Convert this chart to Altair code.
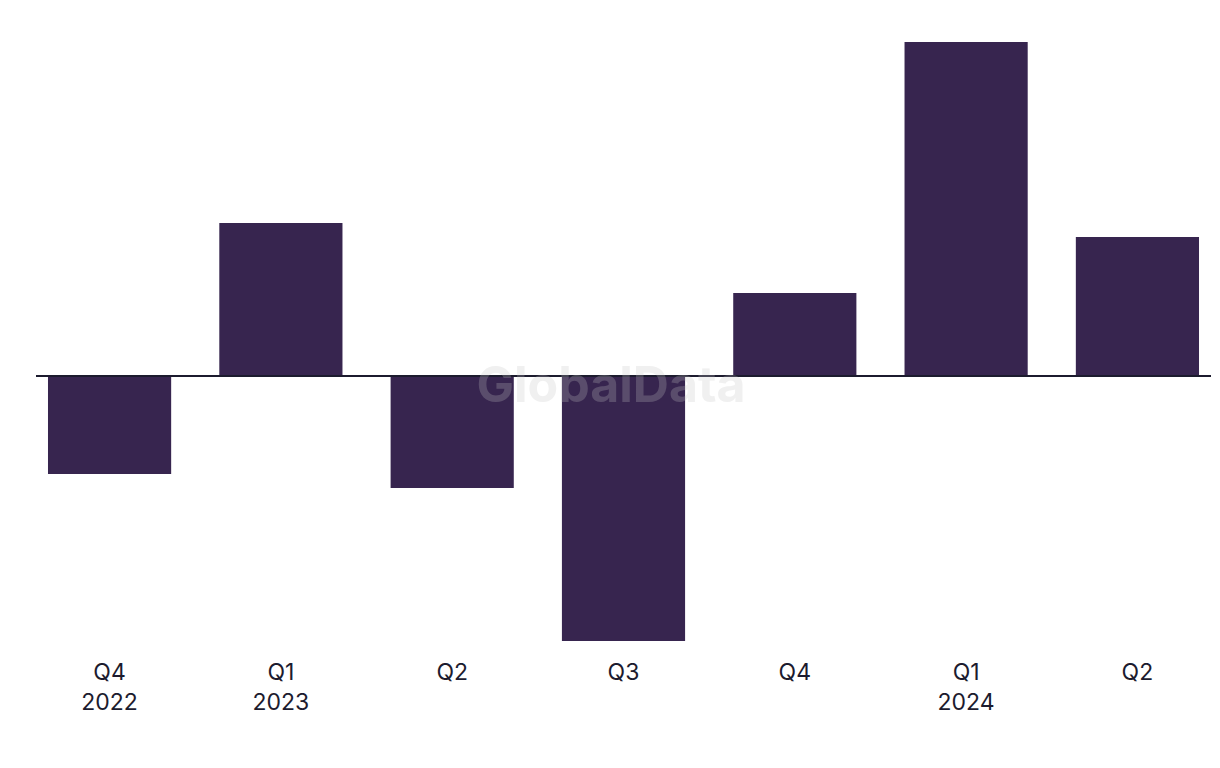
import altair as alt
import pandas as pd

keys = ["2022Q4", "2023Q1", "2023Q2", "2023Q3", "2023Q4", "2024Q1", "2024Q2"]
quarters = ["Q4", "Q1", "Q2", "Q3", "Q4", "Q1", "Q2"]
years = ["2022", "2023", "", "", "", "2024", ""]
values = [-9.8, 15.3, -11.2, -26.5, 8.3, 33.4, 13.9]

df = pd.DataFrame({"key": keys, "value": values})

# build multi-line label expression
expr = "''"
for k, q, y in reversed(list(zip(keys, quarters, years))):
    lab = f"['{q}', '{y}']" if y else f"'{q}'"
    expr = f"datum.value == '{k}' ? {lab} : ({expr})"

FONT = "Inter"
BAR = "#37254f"
INK = "#1c1b2e"

x = alt.X("key:N", sort=keys, title=None,
          scale=alt.Scale(paddingInner=0.281, paddingOuter=0.07),
          axis=alt.Axis(orient="bottom", domain=False, ticks=False, tickSize=0,
                        labelAngle=0, labelPadding=20, labelFont=FONT,
                        labelFontSize=23, labelColor=INK, labelLineHeight=30,
                        labelExpr=expr, grid=False))
y = alt.Y("value:Q", title=None,
          scale=alt.Scale(domain=[-26.5, 33.4], nice=False, zero=True),
          axis=None)

bars = alt.Chart(df).mark_bar(color=BAR).encode(x=x, y=y)

zero = alt.Chart(df).mark_rule(color=INK, strokeWidth=2).encode(y=alt.datum(0))

wm = alt.Chart(pd.DataFrame({"t": ["GlobalData"]})).mark_text(
    font=FONT, fontSize=50, fontWeight="bold", color="#c4c4c4", opacity=0.25,
    align="center", baseline="middle"
).encode(text="t:N", x=alt.value(575), y=alt.value(345))

chart = alt.layer(bars, zero, wm).properties(
    width=1175, height=599, background="white",
    padding={"left": 27, "top": 34, "right": 0, "bottom": 0},
).configure_view(strokeWidth=0, stroke="transparent")

chart.save("out.html", embed_options={"renderer": "svg", "actions": False})
